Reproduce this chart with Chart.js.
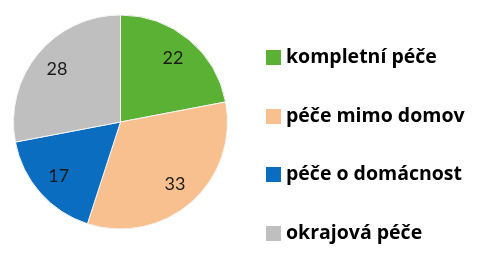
<!DOCTYPE html>
<html>
<head>
<meta charset="utf-8">
<script src="https://cdn.jsdelivr.net/npm/chart.js@4.4.0/dist/chart.umd.min.js"></script>
<style>
  html, body { margin: 0; padding: 0; background: #fff; }
  #wrap { width: 487px; height: 273px; }
</style>
</head>
<body>
<div id="wrap"><canvas id="chart1"></canvas></div>
<script>
const labels = ['kompletní péče', 'péče mimo domov', 'péče o domácnost', 'okrajová péče'];
const values = [22, 33, 17, 28];
const colors = ['#5BB133', '#F9C08F', '#0A6DC0', '#BFBFBF'];

// numbers inside the slices
const sliceLabels = {
    id: 'sliceLabels',
    afterDatasetsDraw(chart) {
        const ctx = chart.ctx;
        const meta = chart.getDatasetMeta(0);
        ctx.save();
        ctx.font = '18px Lato';
        ctx.fillStyle = '#1a1a1a';
        ctx.textAlign = 'center';
        ctx.textBaseline = 'middle';
        meta.data.forEach((arc, i) => {
            const mid = (arc.startAngle + arc.endAngle) / 2;
            const d = arc.outerRadius * 0.77;
            ctx.fillText(String(values[i]), arc.x + Math.cos(mid) * d, arc.y + Math.sin(mid) * d);
        });
        ctx.restore();
    }
};

// legend on the right
const sideLegend = {
    id: 'sideLegend',
    afterDraw(chart) {
        const ctx = chart.ctx;
        const rows = [57, 116, 174, 233];
        ctx.save();
        ctx.font = 'bold 19.5px "Open Sans"';
        ctx.textBaseline = 'middle';
        ctx.textAlign = 'left';
        chart.data.labels.forEach((lab, i) => {
            ctx.fillStyle = chart.data.datasets[0].backgroundColor[i];
            ctx.fillRect(266, rows[i] - 7, 15, 15);
            ctx.fillStyle = '#000';
            ctx.fillText(lab, 286, rows[i]);
        });
        ctx.restore();
    }
};

new Chart(document.getElementById('chart1'), {
    type: 'pie',
    data: {
        labels: labels,
        datasets: [{
            data: values,
            backgroundColor: colors,
            borderColor: '#f4f4f4',
            borderWidth: 1
        }]
    },
    options: {
        responsive: true,
        maintainAspectRatio: false,
        animation: false,
        layout: { padding: { top: 14, bottom: 43, left: 13, right: 259 } },
        plugins: {
            legend: { display: false },
            tooltip: { enabled: false }
        }
    },
    plugins: [sliceLabels, sideLegend]
});
</script>
</body>
</html>
